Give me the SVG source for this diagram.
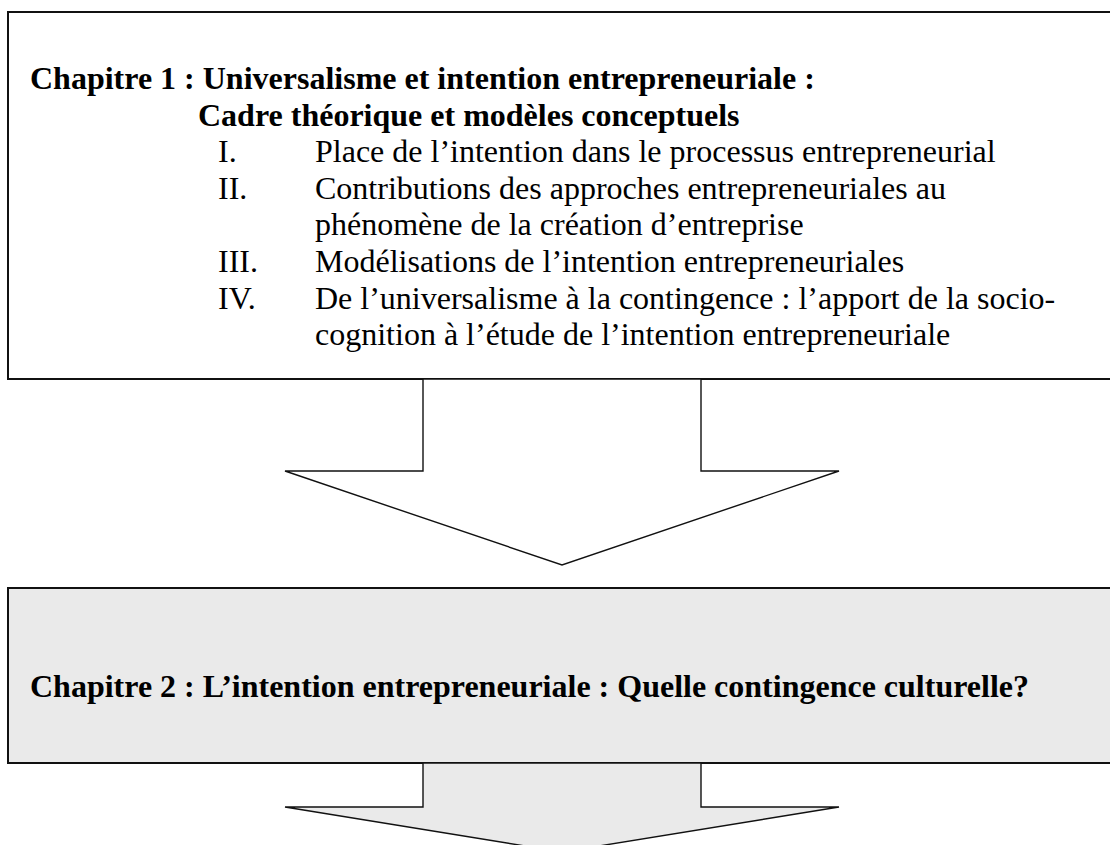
<svg xmlns="http://www.w3.org/2000/svg" width="1110" height="845" viewBox="0 0 1110 845">
<style>
.box{stroke:#111;stroke-width:2}
.arr{stroke:#111;stroke-width:1.4;stroke-linejoin:miter}
text{font-family:"Liberation Serif","Times New Roman",serif;font-size:32px;fill:#000}
.b{font-weight:bold}
</style>
<rect width="1110" height="845" fill="#fff"/>
<g id="chapitre1">
<rect class="box" x="8" y="12" width="1120" height="367" fill="#fff"/>
<text class="b" x="30" y="89">Chapitre 1 : Universalisme et intention entrepreneuriale :</text>
<text class="b" x="198" y="125.6">Cadre théorique et modèles conceptuels</text>
<text x="218" y="162.2">I.</text>
<text x="315" y="162.2">Place de l’intention dans le processus entrepreneurial</text>
<text x="218" y="198.8">II.</text>
<text x="315" y="198.8">Contributions des approches entrepreneuriales au</text>
<text x="315" y="235.4">phénomène de la création d’entreprise</text>
<text x="218" y="272">III.</text>
<text x="315" y="272">Modélisations de l’intention entrepreneuriales</text>
<text x="218" y="308.6">IV.</text>
<text x="315" y="308.6">De l’universalisme à la contingence : l’apport de la socio-</text>
<text x="315" y="345.2">cognition à l’étude de l’intention entrepreneuriale</text>
</g>
<g id="chapitre2">
<rect class="box" x="8" y="588" width="1120" height="175" fill="#eaeaea"/>
<text class="b" x="30" y="697">Chapitre 2 : L’intention entrepreneuriale : Quelle contingence culturelle?</text>
</g>
<g id="connectors">
<path class="arr" d="M423 379 L701 379 L701 471 L839 471 L562 565 L285 471 L423 471 Z" fill="#fff"/>
<path class="arr" d="M423 763 L701 763 L701 807 L839 807 L562 852 L285 807 L423 807 Z" fill="#eaeaea"/>
</g>
</svg>
